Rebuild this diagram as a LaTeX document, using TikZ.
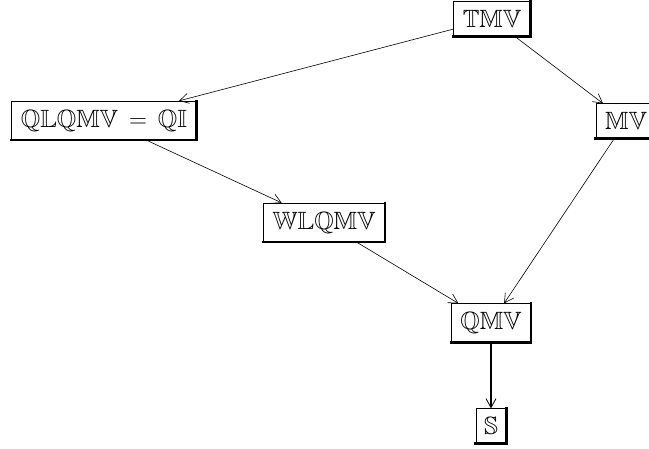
\documentclass[tikz,border=0pt]{standalone}
\usepackage{amssymb}
\usetikzlibrary{arrows.meta}
\tikzset{
  bx/.style={draw, line width=0.9pt, inner xsep=9pt, inner ysep=8.5pt,
    font=\fontsize{25}{30}\selectfont},
  edge/.style={line width=0.6pt, -{Straight Barb[length=9pt,width=10pt,line width=0.6pt]}},
  heavy/.style={line width=2pt, -{Straight Barb[length=9pt,width=10pt,line width=0.8pt]}},
}
% thicker right and bottom sides of a box
\newcommand{\boxshade}[1]{\draw[line width=2.6pt, line cap=rect] (#1.south west) -- (#1.south east) -- (#1.north east);}
\begin{document}
\begin{tikzpicture}[x=1pt, y=-1pt]
  \useasboundingbox[fill=white] (0,0) rectangle (649,449);
  \node[bx] (tmv) at (492,19) {$\mathbb{TMV}$};
  \node[bx] (qlq) at (104,120.5) {$\mathbb{QLQMV}\hspace{11pt}{=}\hspace{11pt}\mathbb{QI}$};
  \node[bx] (mv) at (626,121) {$\mathbb{MV}$};
  \node[bx] (wlq) at (324,222.5) {$\mathbb{WLQMV}$};
  \node[bx] (qmv) at (491,323) {$\mathbb{QMV}$};
  \node[bx, inner xsep=8pt] (s) at (491,426) {$\mathbb{S}$};
  \foreach \n in {tmv,qlq,mv,wlq,qmv,s} {\boxshade{\n}}
  \draw[edge] (tmv) -- (qlq);
  \draw[edge] (tmv) -- (mv);
  \draw[edge] (qlq) -- (wlq);
  \draw[edge] (wlq) -- (qmv);
  \draw[edge] (mv) -- (qmv);
  \draw[heavy] (qmv) -- (s);
\end{tikzpicture}
\end{document}
